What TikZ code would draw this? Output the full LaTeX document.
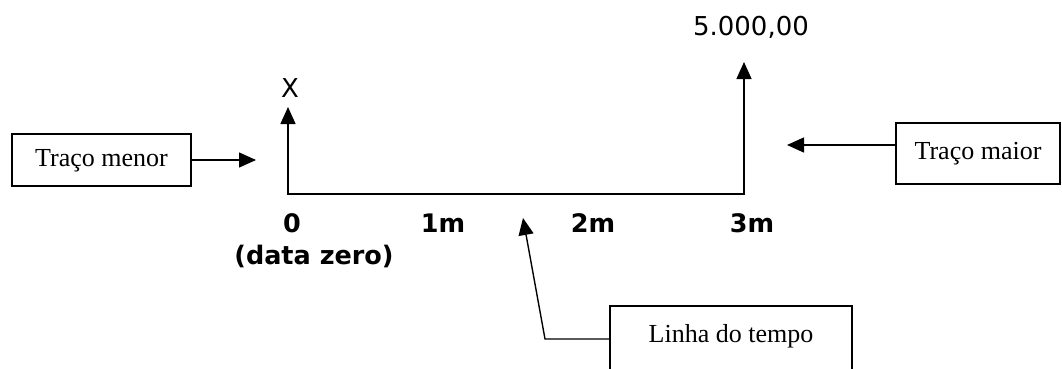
\documentclass[tikz,border=0pt]{standalone}
\usepackage{fontspec}
\setmainfont{Liberation Serif}
\newfontfamily\verdana{DejaVu Sans}
\usetikzlibrary{arrows.meta}

\begin{document}
\begin{tikzpicture}[x=1pt,y=-1pt]
    \tikzstyle{every path}=[line width=1.4pt]
    \tikzstyle{pointer}=[-{Triangle[length=17pt,width=15pt]}]
    \tikzstyle{callout}=[draw,line width=1.2pt,inner sep=0pt,
    font=\fontsize{26}{30}\selectfont,text height=18pt,text depth=6pt]
    \tikzstyle{tick}=[font=\verdana\bfseries\fontsize{25.5}{30}\selectfont]
    \tikzstyle{amount}=[font=\verdana\fontsize{26}{30}\selectfont]

    \useasboundingbox (0,0) rectangle (1062,369);

    %% Draw time line
    \coordinate (zero) at (288,194);
    \coordinate (three) at (744,194);
    \coordinate (xtip) at (288,107);
    \coordinate (vtip) at (744,62);
    \draw [{Triangle[length=17pt,width=15pt]}-{Triangle[length=17pt,width=15pt]}]
    (xtip) -- (zero) -- (three) -- (vtip);

    \node [amount] (xval) at (290,88) {X};
    \node [amount] (vval) at (751,27) {5.000,00};

    \node [tick] (t0) at (292,223) {0};
    \node [tick] (t1) at (443,223) {1m};
    \node [tick] (t2) at (593,223) {2m};
    \node [tick] (t3) at (752,223) {3m};
    \node [tick] (datazero) at (314,256) {(data zero)};

    %% Draw callout boxes
    \node [callout,minimum width=179pt,minimum height=52pt] at (101.5,160) (menor) {Traço menor};
    \node [callout,minimum width=164pt,minimum height=61pt] at (978,153.5) (maior) {Traço maior};
    \node [callout,minimum width=242pt,minimum height=70pt,text depth=15pt] at (731,341) (linha) {Linha do tempo};

    \coordinate (menortip) at (256,160);
    \coordinate (maiortip) at (787,145);
    \coordinate (linhatip) at (523,218);
    \coordinate (bend) at (545,339);
    \draw [pointer] (menor.east) -- (menortip);
    \draw [pointer] ([yshift=8.5pt]maior.west) -- (maiortip);
    \draw [pointer] ([yshift=2pt]linha.west) -- (bend) -- (linhatip);

\end{tikzpicture}
\end{document}
